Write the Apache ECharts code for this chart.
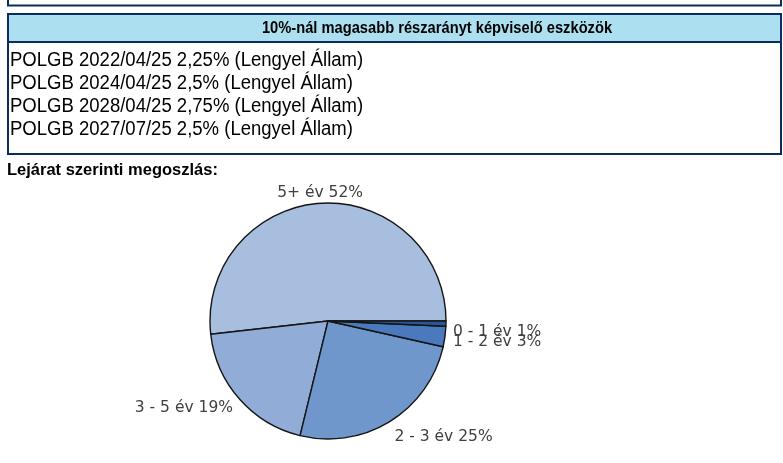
<!DOCTYPE html>
<html><head><meta charset="utf-8">
<script src="https://cdn.jsdelivr.net/npm/echarts@6/dist/echarts.min.js"></script>
<style>html,body{margin:0;padding:0;background:#fff}#c{width:783px;height:463px}</style>
</head><body><div id="c"></div>
<script>
const tableTitle = '10%-nál magasabb részarányt képviselő eszközök';
const tableRows = [
  'POLGB 2022/04/25 2,25% (Lengyel Állam)',
  'POLGB 2024/04/25 2,5% (Lengyel Állam)',
  'POLGB 2028/04/25 2,75% (Lengyel Állam)',
  'POLGB 2027/07/25 2,5% (Lengyel Állam)'
];
const pieTitle = 'Lejárat szerinti megoszlás:';
const categories = ['5+ év', '3 - 5 év', '2 - 3 év', '1 - 2 év', '0 - 1 év'];
const shares = [51.8, 19.4, 25.3, 2.8, 0.7];

const colors = ['#a7bedf', '#91add7', '#6f97cb', '#4a7abd', '#2b5597'];
// label nudges (px) relative to ECharts' default outside label anchor, per category
const labelNudge = [[47, -4], [3, 5], [-4, 11], [-3, 5], [-4, 8]];

const navy = '#0b2c5f';
const FONT = '"Liberation Sans", Arial, sans-serif';
const graphics = [];
graphics.push({type:'polyline', shape:{points:[[8,0],[8,5.5],[781,5.5],[781,0]]}, style:{stroke:navy, lineWidth:2, fill:null}});
graphics.push({type:'rect', shape:{x:8, y:14, width:773, height:28}, style:{fill:'#acdff0', stroke:navy, lineWidth:2}});
graphics.push({type:'text', x:437, y:28.5, scaleX:0.89, style:{text:tableTitle, x:0, y:0, align:'center', verticalAlign:'middle', font:'bold 16.5px ' + FONT, fill:'#000'}});
graphics.push({type:'polyline', shape:{points:[[8,42],[8,154],[781,154],[781,42]]}, style:{stroke:navy, lineWidth:2, fill:null}});
tableRows.forEach((t, i) => {
  graphics.push({type:'text', x:10, y:61 + i * 23, scaleX:0.95, style:{text:t, x:0, y:0, align:'left', verticalAlign:'middle', font:'19.5px ' + FONT, fill:'#000'}});
});
graphics.push({type:'text', style:{text:pieTitle, x:7, y:170, align:'left', verticalAlign:'middle', font:'bold 16.5px ' + FONT, fill:'#000'}});

const chart = echarts.init(document.getElementById('c'), null, {renderer:'canvas'});
chart.setOption({
  animation:false,
  graphic: graphics,
  series:[{
    type:'pie',
    center:[328, 321],
    radius:118,
    startAngle:0,
    clockwise:false,
    avoidLabelOverlap:false,
    minShowLabelAngle:0,
    labelLayout:{hideOverlap:false},
    data: categories.map((n, i) => ({
      name:n, value:shares[i],
      itemStyle:{color:colors[i]},
      label:{offset:labelNudge[i]}
    })),
    itemStyle:{borderColor:'#151515', borderWidth:1.4},
    label:{
      show:true, position:'outside', color:'#404040', fontSize:15.5, fontFamily:'"DejaVu Sans", sans-serif',
      formatter: p => p.name + ' ' + Math.round(p.percent) + '%'
    },
    labelLine:{show:false, length:6, length2:0},
    emphasis:{disabled:true}
  }]
});
</script></body></html>
